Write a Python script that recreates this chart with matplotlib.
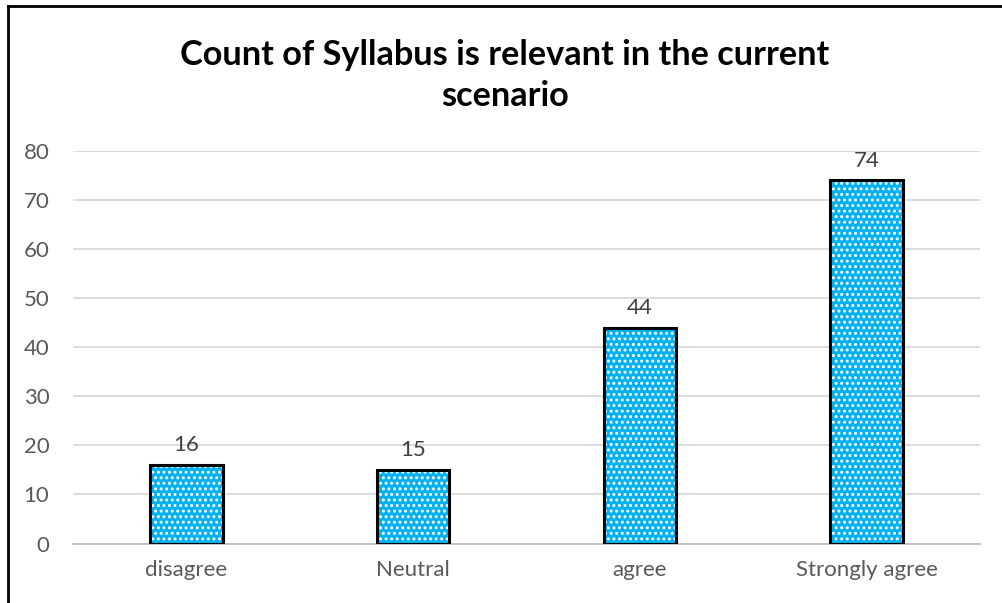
import matplotlib
matplotlib.use('Agg')
import matplotlib.pyplot as plt
from matplotlib.lines import Line2D
import numpy as np

# Data
categories = ['disagree', 'Neutral', 'agree', 'Strongly agree']
counts = [16, 15, 44, 74]
y_ticks = [0, 10, 20, 30, 40, 50, 60, 70, 80]
title = 'Count of Syllabus is relevant in the current\nscenario'

plt.rcParams['font.family'] = ['Lato', 'DejaVu Sans']
plt.rcParams['hatch.linewidth'] = 1.4

W, H = 1003, 603
fig = plt.figure(figsize=(W / 100, H / 100), dpi=100)
ax = fig.add_axes([73 / W, 1 - 543.5 / H, (980 - 73) / W, (543.5 - 151) / H])

x = np.arange(len(categories))
# patterned fill, then black outline on top
ax.bar(x, counts, width=0.32, color='#00B0F0', edgecolor='white',
       hatch='...', linewidth=0, zorder=2)
ax.bar(x, counts, width=0.32, fill=False, edgecolor='black',
       linewidth=2.2, zorder=3)

for xi, v in zip(x, counts):
    ax.annotate(str(v), (xi, v), xytext=(0, 7), textcoords='offset points',
                ha='center', va='bottom', fontsize=16, color='#404040')

ax.set_xlim(-0.5, len(categories) - 0.5)
ax.set_ylim(0, 80)
ax.set_yticks(y_ticks)
ax.set_xticks(x)
ax.set_xticklabels(categories)
ax.tick_params(axis='both', length=0, labelsize=16, colors='#595959')
ax.tick_params(axis='x', pad=12)
ax.tick_params(axis='y', pad=17)
ax.grid(axis='y', color='#D9D9D9', linewidth=1.3, zorder=0)
ax.set_axisbelow(True)
for s in ['top', 'right', 'left']:
    ax.spines[s].set_visible(False)
ax.spines['bottom'].set_color('#BFBFBF')
ax.spines['bottom'].set_linewidth(1.3)

fig.text(505 / W, 1 - 106 / H, title, ha='center', va='baseline',
         fontsize=24.7, fontweight='bold', color='black', linespacing=1.36)

# chart border (top and left edges visible)
fig.add_artist(Line2D([8.5 / W, 1], [1 - 5.5 / H, 1 - 5.5 / H],
                      color='black', linewidth=2, transform=fig.transFigure))
fig.add_artist(Line2D([8.5 / W, 8.5 / W], [0, 1 - 5.5 / H],
                      color='black', linewidth=2, transform=fig.transFigure))

fig.savefig('out.png', dpi=100)
